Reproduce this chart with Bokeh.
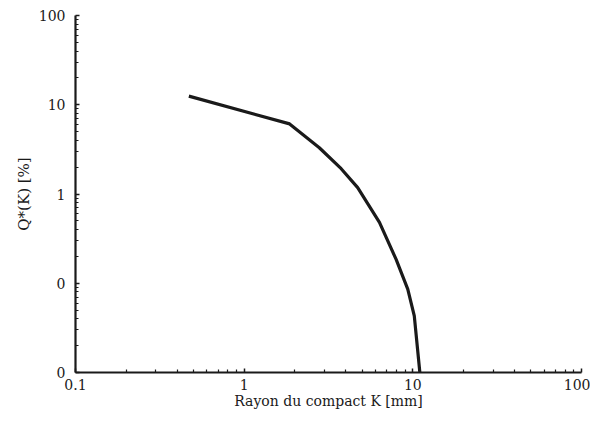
from bokeh.plotting import figure
from bokeh.models import FixedTicker, Range1d
from bokeh.embed import file_html
from bokeh.resources import INLINE

# data
radius_mm = [0.47, 1.86, 2.79, 3.76, 4.71, 6.34, 7.96, 9.33, 10.2, 11.0]
q_percent = [12.5, 6.1, 3.3, 1.92, 1.18, 0.48, 0.185, 0.086, 0.043, 0.0101]

x_ticks = [0.1, 1, 10, 100]
x_tick_labels = ["0.1", "1", "10", "100"]
y_ticks = [0.01, 0.1, 1, 10, 100]
y_tick_labels = ["0", "0", "1", "10", "100"]

FONT = "DejaVu Serif"

p = figure(width=590, height=419, x_axis_type="log", y_axis_type="log",
           x_range=Range1d(0.1, 100), y_range=Range1d(0.01, 100),
           output_backend="svg", toolbar_location=None,
           min_border_left=75, min_border_top=15, min_border_right=9, min_border_bottom=47)

p.line(radius_mm, q_percent, line_color="#1a1a1a", line_width=3.2)

def minors(lo, hi):
    out = []
    d = lo
    while d < hi:
        for k in range(2, 10):
            out.append(d * k)
        d *= 10
    return out

p.xaxis.ticker = FixedTicker(ticks=x_ticks, minor_ticks=minors(0.1, 100))
p.yaxis.ticker = FixedTicker(ticks=y_ticks, minor_ticks=minors(0.01, 100))
p.xaxis.major_label_overrides = {float(t): l for t, l in zip(x_ticks, x_tick_labels)}
p.yaxis.major_label_overrides = {float(t): l for t, l in zip(y_ticks, y_tick_labels)}

for ax in (p.xaxis, p.yaxis):
    ax.axis_line_width = 2.2
    ax.axis_line_color = "#1a1a1a"
    ax.major_tick_in = 4
    ax.major_tick_out = 0
    ax.minor_tick_in = 3
    ax.minor_tick_out = 0
    ax.major_tick_line_color = "#1a1a1a"
    ax.minor_tick_line_color = "#1a1a1a"
    ax.major_tick_line_width = 1.5
    ax.minor_tick_line_width = 1.2
    ax.major_label_text_font = FONT
    ax.major_label_text_font_size = "14px"
    ax.major_label_text_color = "#1a1a1a"
    ax.axis_label_text_font = FONT
    ax.axis_label_text_font_size = "14px"
    ax.axis_label_text_font_style = "normal"
    ax.axis_label_text_color = "#1a1a1a"

p.xaxis.axis_label = "Rayon du compact K [mm]"
p.yaxis.axis_label = "Q*(K) [%]"
p.yaxis.axis_label_text_font_size = "15px"
p.xaxis.major_label_standoff = 6
p.yaxis.major_label_standoff = 10
p.xaxis.axis_label_standoff = 0
p.yaxis.axis_label_standoff = 3

p.xgrid.visible = False
p.ygrid.visible = False
p.outline_line_color = None

open("out.html", "w").write(file_html(p, INLINE))
